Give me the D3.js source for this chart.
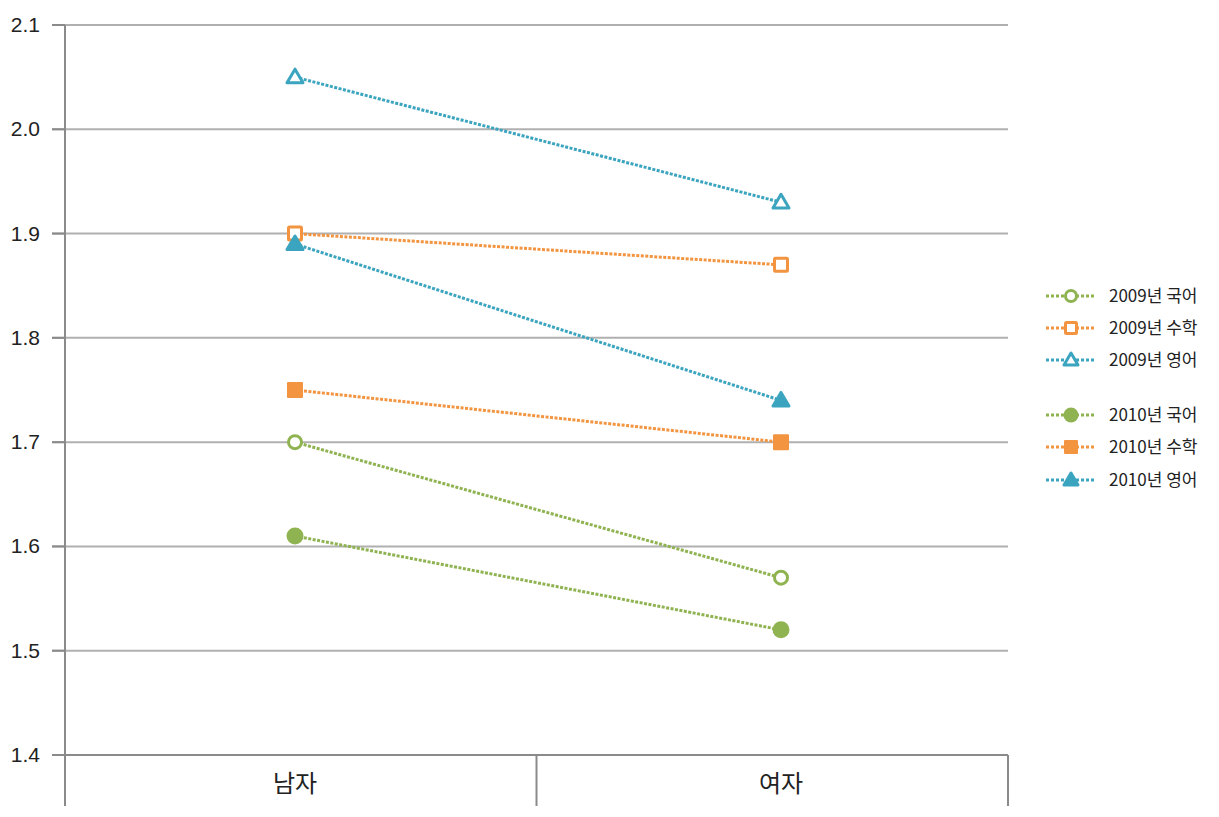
<!DOCTYPE html>
<html><head><meta charset="utf-8">
<script src="https://cdn.jsdelivr.net/npm/d3@7"></script>
<style>
body{margin:0;background:#fff;}
svg{display:block;font-family:"Noto Sans CJK KR","Liberation Sans",sans-serif;}
</style></head><body>
<svg id="c" width="1219" height="817"></svg>
<script>
const categories = ["남자", "여자"];
const seriesNames = ["2009년 국어", "2009년 수학", "2009년 영어", "2010년 국어", "2010년 수학", "2010년 영어"];
const v2009Korean = [1.70, 1.57];
const v2009Math = [1.90, 1.87];
const v2009English = [2.05, 1.93];
const v2010Korean = [1.61, 1.52];
const v2010Math = [1.75, 1.70];
const v2010English = [1.89, 1.74];
const yTicks = [1.4, 1.5, 1.6, 1.7, 1.8, 1.9, 2.0, 2.1];

const green = "#8fb350", orange = "#f29440", blue = "#3ba4bf";
const series = [
  {name: seriesNames[0], values: v2009Korean, color: green, shape: "circle", filled: false},
  {name: seriesNames[1], values: v2009Math, color: orange, shape: "square", filled: false},
  {name: seriesNames[2], values: v2009English, color: blue, shape: "triangle", filled: false},
  {name: seriesNames[3], values: v2010Korean, color: green, shape: "circle", filled: true},
  {name: seriesNames[4], values: v2010Math, color: orange, shape: "square", filled: true},
  {name: seriesNames[5], values: v2010English, color: blue, shape: "triangle", filled: true}
];

const svg = d3.select("#c");
const mLeft = 65, mRight = 1008, mTop = 25, mBottom = 755;
const y = d3.scaleLinear().domain([1.4, 2.1]).range([mBottom, mTop]);
const xb = d3.scaleBand().domain(categories).range([mLeft, mRight]);
const xp = d3.scalePoint().domain(categories).range([295, 781]);

// gridlines
svg.append("g").selectAll("line").data(yTicks).join("line")
  .attr("x1", 52).attr("x2", mRight)
  .attr("y1", d => y(d)).attr("y2", d => y(d))
  .attr("stroke", d => d === 1.4 ? "#8a8a8a" : "#b0b0b0").attr("stroke-width", 2);

// y axis line
svg.append("line").attr("x1", mLeft).attr("x2", mLeft).attr("y1", mTop).attr("y2", 806)
  .attr("stroke", "#8a8a8a").attr("stroke-width", 2);
// tick marks
svg.append("g").selectAll("line").data(yTicks).join("line")
  .attr("x1", 52).attr("x2", mLeft).attr("y1", d => y(d)).attr("y2", d => y(d))
  .attr("stroke", "#8a8a8a").attr("stroke-width", 2);
// y labels
svg.append("g").selectAll("text").data(yTicks).join("text")
  .attr("x", 40).attr("y", d => y(d) + 7).attr("text-anchor", "end")
  .attr("font-size", 21).attr("fill", "#222").attr("font-family", "Liberation Sans, sans-serif")
  .text(d => d.toFixed(1));

// x dividers
const divs = [mLeft, xb("여자"), mRight];
svg.append("g").selectAll("line").data(divs).join("line")
  .attr("x1", d => d).attr("x2", d => d).attr("y1", mBottom).attr("y2", 806)
  .attr("stroke", "#8a8a8a").attr("stroke-width", 2);
// x labels
svg.append("g").selectAll("text").data(categories).join("text")
  .attr("x", d => xp(d)).attr("y", 792).attr("text-anchor", "middle")
  .attr("font-size", 24).attr("fill", "#222").text(d => d);

function drawMarker(g, shape, color, filled, cx, cy, s) {
  if (shape === "circle") {
    g.append("circle").attr("cx", cx).attr("cy", cy).attr("r", filled ? s + 0.5 : s - 1.5)
      .attr("fill", filled ? color : "#fff").attr("stroke", color).attr("stroke-width", filled ? 0 : 3);
  } else if (shape === "square") {
    const h = filled ? s : s - 1.5;
    g.append("rect").attr("x", cx - h).attr("y", cy - h).attr("width", 2 * h).attr("height", 2 * h)
      .attr("fill", filled ? color : "#fff").attr("stroke", color).attr("stroke-width", filled ? 0 : 3)
      .attr("rx", 1);
  } else {
    const r = s;
    const pts = [[cx, cy - r], [cx + r, cy + r * 0.7], [cx - r, cy + r * 0.7]];
    g.append("path").attr("d", "M" + pts.join("L") + "Z")
      .attr("fill", filled ? color : "#fff").attr("stroke", color)
      .attr("stroke-width", 3).attr("stroke-linejoin", "round");
  }
}

const line = d3.line().x((d, i) => xp(categories[i])).y(d => y(d));
series.forEach(s => {
  const g = svg.append("g");
  g.append("path").attr("d", line(s.values)).attr("fill", "none")
    .attr("stroke", s.color).attr("stroke-width", 3).attr("stroke-dasharray", "3,1.5");
  s.values.forEach((v, i) => drawMarker(g, s.shape, s.color, s.filled, xp(categories[i]), y(v), 8));
});

// legend
const legY = [296, 328, 360, 415, 447, 480];
series.forEach((s, i) => {
  const g = svg.append("g");
  const yy = legY[i];
  g.append("line").attr("x1", 1046).attr("x2", 1096).attr("y1", yy).attr("y2", yy)
    .attr("stroke", s.color).attr("stroke-width", 3).attr("stroke-dasharray", "3,2");
  drawMarker(g, s.shape, s.color, s.filled, 1071, yy, 7);
  g.append("text").attr("x", 1109).attr("y", yy + 6).attr("font-size", 17).attr("fill", "#222").text(s.name);
});
</script></body></html>
